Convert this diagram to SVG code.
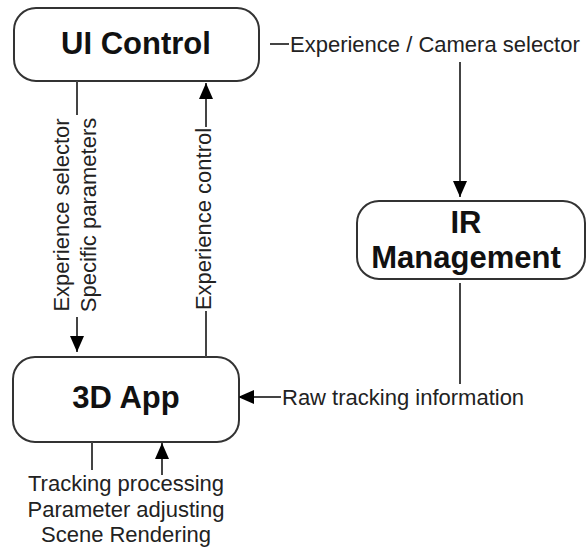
<svg xmlns="http://www.w3.org/2000/svg" width="588" height="552" viewBox="0 0 588 552">
<style>
.box{fill:#fff;stroke:#333;stroke-width:2}
.title{font-family:"Liberation Sans",Arial,sans-serif;font-weight:bold;font-size:31px;fill:#111;text-anchor:middle}
.lbl{font-family:"Liberation Sans",Arial,sans-serif;font-size:22px;fill:#222}
.ln{stroke:#444;stroke-width:2;fill:none}
</style>
<defs>
<marker id="ah" markerWidth="16" markerHeight="14" refX="16" refY="7" orient="auto" markerUnits="userSpaceOnUse">
<path d="M0,0 L16,7 L0,14 Z" fill="#000"/>
</marker>
</defs>
<rect width="588" height="552" fill="#fff"/>
<g id="ui-control">
<rect class="box" x="14" y="8" width="245" height="73" rx="22"/>
<text class="title" x="136" y="54">UI Control</text>
</g>
<g id="ir-management">
<rect class="box" x="357" y="201" width="228" height="78" rx="22"/>
<text class="title" x="466" y="233">IR</text>
<text class="title" x="466" y="268">Management</text>
</g>
<g id="app-3d">
<rect class="box" x="13" y="357" width="226" height="85" rx="22"/>
<text class="title" x="126" y="408">3D App</text>
</g>
<g id="connectors">
<line class="ln" x1="270" y1="44" x2="289" y2="44"/>
<line class="ln" x1="460" y1="62" x2="460" y2="197" marker-end="url(#ah)"/>
<line class="ln" x1="460" y1="283" x2="460" y2="384"/>
<line class="ln" x1="281" y1="397" x2="238" y2="397" marker-end="url(#ah)"/>
<line class="ln" x1="77" y1="81" x2="77" y2="115"/>
<line class="ln" x1="77" y1="317" x2="77" y2="352" marker-end="url(#ah)"/>
<line class="ln" x1="206" y1="357" x2="206" y2="311"/>
<line class="ln" x1="206" y1="127" x2="206" y2="83" marker-end="url(#ah)"/>
<line class="ln" x1="92" y1="442" x2="92" y2="470"/>
<line class="ln" x1="162" y1="475" x2="162" y2="443" marker-end="url(#ah)"/>
</g>
<g id="labels">
<text class="lbl" x="290" y="52">Experience / Camera selector</text>
<text class="lbl" x="282" y="405">Raw tracking information</text>
<text class="lbl" text-anchor="middle" transform="translate(69,215) rotate(-90)">Experience selector</text>
<text class="lbl" text-anchor="middle" transform="translate(96,215) rotate(-90)">Specific parameters</text>
<text class="lbl" text-anchor="middle" transform="translate(211,219) rotate(-90)">Experience control</text>
<text class="lbl" text-anchor="middle" x="126" y="491">Tracking processing</text>
<text class="lbl" text-anchor="middle" x="126" y="517">Parameter adjusting</text>
<text class="lbl" text-anchor="middle" x="126" y="542">Scene Rendering</text>
</g>
</svg>
